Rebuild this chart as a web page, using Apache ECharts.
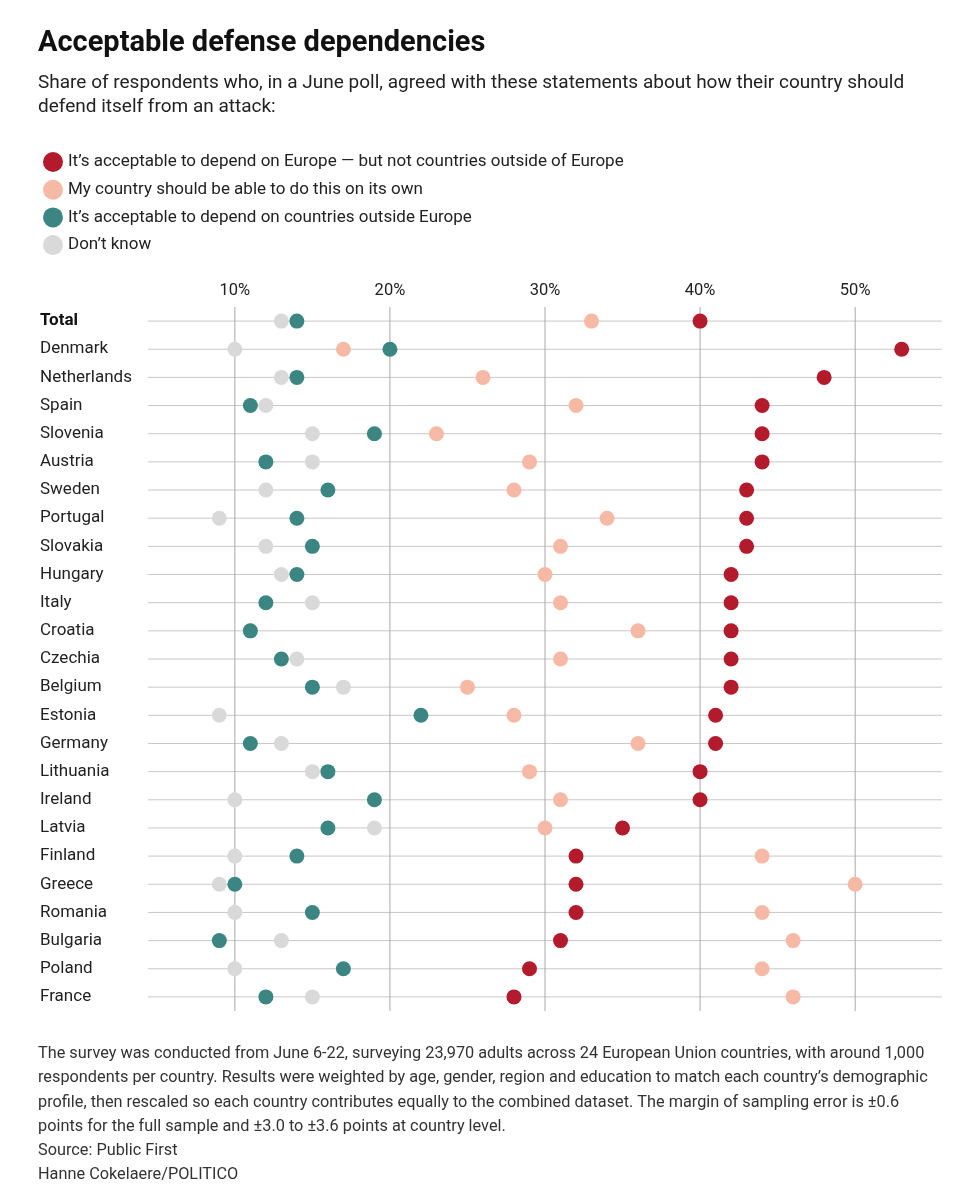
<!DOCTYPE html>
<html>
<head>
<meta charset="utf-8">
<script src="https://cdn.jsdelivr.net/npm/echarts@6/dist/echarts.min.js"></script>
<style>
  html, body { margin: 0; padding: 0; background: #fff; }
  #chart { width: 957px; height: 1200px; }
</style>
</head>
<body>
<div id="chart"></div>
<script>
var countries = ['Total', 'Denmark', 'Netherlands', 'Spain', 'Slovenia', 'Austria', 'Sweden', 'Portugal',
  'Slovakia', 'Hungary', 'Italy', 'Croatia', 'Czechia', 'Belgium', 'Estonia', 'Germany', 'Lithuania',
  'Ireland', 'Latvia', 'Finland', 'Greece', 'Romania', 'Bulgaria', 'Poland', 'France'];
var europeOnly = [40, 53, 48, 44, 44, 44, 43, 43, 43, 42, 42, 42, 42, 42, 41, 41, 40, 40, 35, 32, 32, 32, 31, 29, 28];
var onItsOwn = [33, 17, 26, 32, 23, 29, 28, 34, 31, 30, 31, 36, 31, 25, 28, 36, 29, 31, 30, 44, 50, 44, 46, 44, 46];
var outsideEurope = [14, 20, 14, 11, 19, 12, 16, 14, 15, 14, 12, 11, 13, 15, 22, 11, 16, 19, 16, 14, 10, 15, 9, 17, 12];
var dontKnow = [13, 10, 13, 12, 15, 15, 12, 9, 12, 13, 15, 11, 14, 17, 9, 13, 15, 10, 19, 10, 9, 10, 13, 10, 15];
var xTicks = [10, 20, 30, 40, 50];

var names = [
  'It\u2019s acceptable to depend on Europe \u2014 but not countries outside of Europe',
  'My country should be able to do this on its own',
  'It\u2019s acceptable to depend on countries outside Europe',
  'Don\u2019t know'
];
var colors = ['#b31b2c', '#f6b9a6', '#3b8682', '#d9d9d9'];

function dots(name, values, color) {
  return {
    name: name,
    type: 'scatter',
    symbolSize: 15,
    itemStyle: { color: color, opacity: 1 },
    data: values.map(function (v, i) { return [v, countries[i]]; }),
    z: 3
  };
}

var chart = echarts.init(document.getElementById('chart'));
chart.setOption({
  animation: false,
  textStyle: { fontFamily: 'Roboto, "Noto Sans", sans-serif' },
  title: {
    text: 'Acceptable defense dependencies',
    left: 33, top: 24,
    textStyle: { fontSize: 29, fontWeight: 'bold', color: '#111' }
  },
  legend: {
    orient: 'vertical',
    left: 38, top: 147,
    icon: 'circle',
    itemWidth: 20, itemHeight: 20, itemGap: 7.7,
    data: names,
    textStyle: { fontSize: 17, color: '#222' },
    selectedMode: false
  },
  grid: { left: 148, right: 15, top: 307, height: 704 },
  xAxis: {
    type: 'value',
    position: 'top',
    min: 4.4, max: 55.6,
    axisLine: { show: false },
    axisTick: { show: false },
    splitLine: { show: false },
    axisLabel: { show: false }
  },
  yAxis: {
    type: 'category',
    inverse: true,
    data: countries,
    axisLine: { show: false },
    axisTick: { show: false },
    axisLabel: {
      align: 'left', margin: 108, fontSize: 17, color: '#222',
      formatter: function (v) { return v === 'Total' ? '{b|' + v + '}' : v; },
      rich: { b: { fontWeight: 'bold', fontSize: 17, color: '#111' } }
    }
  },
  graphic: [
    {
      type: 'text', left: 38, top: 71,
      style: {
        text: 'Share of respondents who, in a June poll, agreed with these statements about how their country should\ndefend itself from an attack:',
        fontSize: 19, lineHeight: 24, fill: '#222', fontFamily: 'Roboto, sans-serif'
      }
    },
    {
      type: 'text', left: 38, top: 1042,
      style: {
        text: 'The survey was conducted from June 6-22, surveying 23,970 adults across 24 European Union countries, with around 1,000\nrespondents per country. Results were weighted by age, gender, region and education to match each country\u2019s demographic\nprofile, then rescaled so each country contributes equally to the combined dataset. The margin of sampling error is \u00b10.6\npoints for the full sample and \u00b13.0 to \u00b13.6 points at country level.\nSource: Public First\nHanne Cokelaere/POLITICO',
        fontSize: 16.3, lineHeight: 24.2, fill: '#333', fontFamily: 'Roboto, sans-serif'
      }
    }
  ],
  series: [
    {
      type: 'custom',
      silent: true,
      z: 1,
      data: countries.map(function (c) { return [0, c]; }),
      renderItem: function (params, api) {
        var y = api.coord([10, api.value(1)])[1];
        var cs = params.coordSys;
        return {
          type: 'line',
          shape: { x1: cs.x, y1: y, x2: cs.x + cs.width, y2: y },
          style: { stroke: '#c8c8c8', lineWidth: 1 }
        };
      }
    },
    {
      type: 'custom',
      silent: true,
      z: 1,
      data: xTicks.map(function (t) { return [t]; }),
      renderItem: function (params, api) {
        var cs = params.coordSys;
        var x = api.coord([api.value(0), countries[0]])[0];
        return {
          type: 'group',
          children: [
            { type: 'line', shape: { x1: x, y1: cs.y, x2: x, y2: cs.y + cs.height },
              style: { stroke: '#a8a8a8', lineWidth: 1 } },
            { type: 'text', x: x, y: cs.y - 8,
              style: { text: api.value(0) + '%', fontSize: 16.5, fill: '#222', align: 'center', verticalAlign: 'bottom', fontFamily: 'Roboto, sans-serif' } }
          ]
        };
      }
    },
    dots(names[3], dontKnow, colors[3]),
    dots(names[2], outsideEurope, colors[2]),
    dots(names[1], onItsOwn, colors[1]),
    dots(names[0], europeOnly, colors[0])
  ]
});
</script>
</body>
</html>
